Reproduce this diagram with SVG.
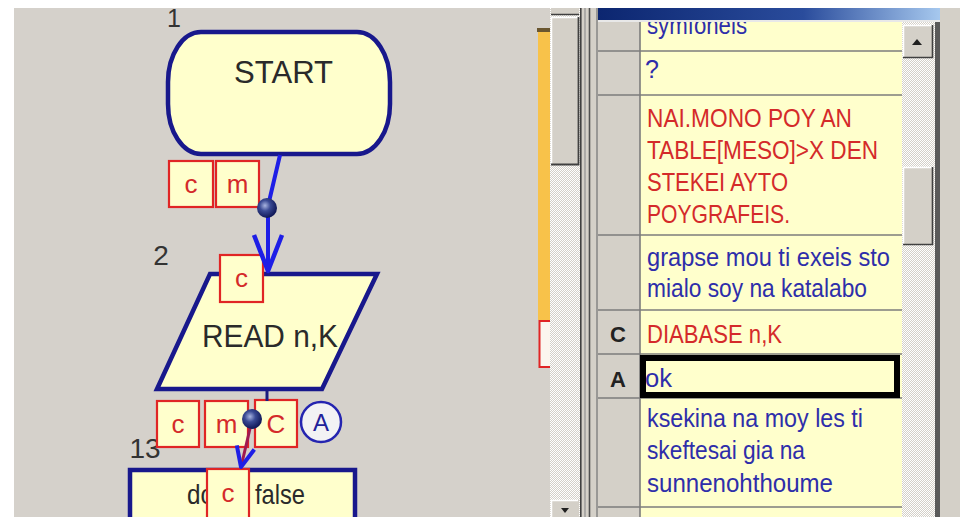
<svg xmlns="http://www.w3.org/2000/svg" width="963" height="517" viewBox="0 0 963 517">
<defs>
<style>
.node{fill:#ffffcc;stroke:#18188c;stroke-width:4.5}
.tag{fill:#ffffcc;stroke:#e02525;stroke-width:2.2}
.tagt{font-family:"Liberation Sans",Arial,sans-serif;font-size:26px;fill:#d42a2a;text-anchor:middle}
.ntxt{font-family:"Liberation Sans",Arial,sans-serif;font-size:32px;fill:#2a2a2a}
.num{font-family:"Liberation Sans",Arial,sans-serif;font-size:28px;fill:#333333;text-anchor:middle}
.cell{font-family:"Liberation Sans",Arial,sans-serif;font-size:25px}
.blue{fill:#2e2eaa}
.red{fill:#d42a2a}
.hdr{font-family:"Liberation Sans",Arial,sans-serif;font-size:22px;font-weight:bold;fill:#222222}
.grid{stroke:#7c7c7c;stroke-width:1.6}
.btn{fill:#d4d0c8}
</style>
<radialGradient id="ball" cx="40%" cy="38%" r="60%">
<stop offset="0" stop-color="#a8b4e0"/>
<stop offset="0.45" stop-color="#3a4a94"/>
<stop offset="1" stop-color="#121a5a"/>
</radialGradient>
<linearGradient id="title" x1="0" y1="0" x2="1" y2="0">
<stop offset="0" stop-color="#0c2670"/>
<stop offset="0.6" stop-color="#2a4c9c"/>
<stop offset="1" stop-color="#a6c8ee"/>
</linearGradient>
<pattern id="dots" width="2" height="2" patternUnits="userSpaceOnUse">
<rect width="2" height="2" fill="#d4d0c8"/>
<rect width="1" height="1" fill="#ffffff"/>
<rect x="1" y="1" width="1" height="1" fill="#ffffff"/>
</pattern>
<marker id="arrowBig" viewBox="-42 -20 46 40" refX="0" refY="0" markerWidth="46" markerHeight="40" markerUnits="userSpaceOnUse" orient="auto">
<path d="M-36,-14 L0,0 L-36,14" fill="none" stroke="#1e1ee6" stroke-width="4.5" stroke-linejoin="round"/>
</marker>
<marker id="arrowSmall" viewBox="-26 -14 30 28" refX="0" refY="0" markerWidth="30" markerHeight="28" markerUnits="userSpaceOnUse" orient="auto">
<path d="M-20,-9 L0,0 L-20,9" fill="none" stroke="#1e1ee6" stroke-width="4" stroke-linejoin="round"/>
</marker>
</defs>

<!-- window background -->
<rect x="0" y="0" width="963" height="517" fill="#ffffff"/>
<rect x="14" y="8" width="536" height="509" fill="#d5d1cb"/>

<!-- flowchart nodes -->
<g id="node-start">
<rect class="node" x="168" y="32" width="222" height="122" rx="33" ry="50"/>
<text class="ntxt" x="234" y="83" textLength="99" lengthAdjust="spacingAndGlyphs">START</text>
<text class="num" x="174" y="27" style="font-size:25px">1</text>
</g>
<g id="node-read">
<polygon class="node" points="210,274 377,274 322,389 157,389"/>
<text class="ntxt" x="202" y="347" textLength="136" lengthAdjust="spacingAndGlyphs">READ n,K</text>
<text class="num" x="161" y="265">2</text>
</g>
<g id="node-init">
<rect class="node" x="130" y="470" width="225" height="70"/>
<text class="ntxt" x="187" y="504" style="font-size:28px" textLength="27" lengthAdjust="spacingAndGlyphs">do</text>
<text class="ntxt" x="255" y="504" style="font-size:28px" textLength="50" lengthAdjust="spacingAndGlyphs">false</text>
<text class="num" x="145" y="458">13</text>
</g>

<!-- annotation tags -->
<g id="tags-start">
<rect class="tag" x="169" y="161" width="44" height="46"/>
<text class="tagt" x="191" y="193">c</text>
<rect class="tag" x="216" y="161" width="43" height="46"/>
<text class="tagt" x="237.5" y="193">m</text>
</g>
<g id="tags-read">
<rect class="tag" x="220" y="255" width="43" height="47"/>
<text class="tagt" x="241.5" y="287">c</text>
<rect class="tag" x="157" y="401" width="42" height="46"/>
<text class="tagt" x="178" y="433">c</text>
<rect class="tag" x="205" y="401" width="43" height="46"/>
<text class="tagt" x="226.5" y="433">m</text>
<rect class="tag" x="255" y="400" width="42" height="47"/>
<text class="tagt" x="276" y="433">C</text>
</g>
<g id="tag-a">
<circle cx="321" cy="422" r="20" fill="#f2f2f4" stroke="#2424b0" stroke-width="2.5"/>
<text x="321" y="431" text-anchor="middle" style="font-family:'Liberation Sans',Arial,sans-serif;font-size:24px;fill:#22229a">A</text>
</g>
<g id="tags-init">
<rect class="tag" x="207" y="469" width="42" height="60"/>
<text class="tagt" x="228" y="502">c</text>
</g>

<!-- connectors -->
<g id="connectors">
<path d="M280,155 L268,206 L268,271" fill="none" stroke="#1e1ee6" stroke-width="4" stroke-linejoin="round" marker-end="url(#arrowBig)"/>
<line x1="267" y1="389" x2="267" y2="401" stroke="#1a1a80" stroke-width="3"/>
<line x1="252" y1="420" x2="241" y2="467" stroke="#a01a50" stroke-width="3" marker-end="url(#arrowSmall)"/>
<circle cx="267" cy="208" r="10" fill="url(#ball)"/>
<circle cx="252" cy="419" r="10" fill="url(#ball)"/>
</g>

<!-- overview strip -->
<g id="overview">
<rect x="538" y="31" width="12" height="289" fill="#f8c24a"/>
<rect x="537" y="28" width="13" height="4" fill="#6a5630"/>
<rect x="539.5" y="321" width="14" height="46" fill="#fbf6ee" stroke="#e02525" stroke-width="2"/>
</g>

<!-- middle scrollbar -->
<g id="scroll-left">
<rect x="550" y="8" width="30" height="509" fill="url(#dots)"/>
<rect class="btn" x="551" y="8" width="28" height="7"/>
<line x1="551" y1="14.5" x2="579" y2="14.5" stroke="#404040" stroke-width="1.5"/>
<rect class="btn" x="551" y="17" width="28" height="148"/>
<path d="M551.5,165 V17.5 H578" fill="none" stroke="#ffffff" stroke-width="1.5"/>
<path d="M551,164.5 H578.5 V17" fill="none" stroke="#404040" stroke-width="1.8"/>
<rect class="btn" x="551" y="500" width="28" height="17"/>
<path d="M551.5,517 V500.5 H578" fill="none" stroke="#ffffff" stroke-width="1.5"/>
<polygon points="561,508 569,508 565,513" fill="#202020"/>
</g>

<!-- splitter -->
<g id="splitter">
<rect x="580" y="0" width="18" height="517" fill="#d4d0c8"/>
<rect x="580" y="0" width="18" height="8" fill="#ffffff"/>
<line x1="580.8" y1="8" x2="580.8" y2="517" stroke="#404040" stroke-width="1.6"/>
<line x1="585" y1="8" x2="585" y2="517" stroke="#909090" stroke-width="1.2"/>
<line x1="589.5" y1="8" x2="589.5" y2="517" stroke="#505050" stroke-width="1.6"/>
<line x1="597" y1="8" x2="597" y2="517" stroke="#808080" stroke-width="1.4"/>
</g>

<!-- table panel -->
<g id="table">
<rect x="598" y="8" width="304" height="509" fill="#ffffcc"/>
<rect x="598" y="8" width="42" height="509" fill="#d4d0c8"/>
<line class="grid" x1="640" y1="8" x2="640" y2="517"/>
<line class="grid" x1="598" y1="51" x2="902" y2="51"/>
<line class="grid" x1="598" y1="95" x2="902" y2="95"/>
<line class="grid" x1="598" y1="235" x2="902" y2="235"/>
<line class="grid" x1="598" y1="310" x2="902" y2="310"/>
<line class="grid" x1="598" y1="354" x2="902" y2="354"/>
<line class="grid" x1="598" y1="398" x2="902" y2="398"/>
<line class="grid" x1="598" y1="507" x2="902" y2="507"/>

<text class="cell blue" x="647" y="34" textLength="100" lengthAdjust="spacingAndGlyphs">symfoneis</text>
<text class="cell blue" x="645" y="78">?</text>
<text class="cell red" x="647" y="127" textLength="205" lengthAdjust="spacingAndGlyphs">NAI.MONO POY AN</text>
<text class="cell red" x="647" y="159" textLength="231" lengthAdjust="spacingAndGlyphs">TABLE[MESO]&gt;X DEN</text>
<text class="cell red" x="647" y="191" textLength="141" lengthAdjust="spacingAndGlyphs">STEKEI AYTO</text>
<text class="cell red" x="647" y="223" textLength="143" lengthAdjust="spacingAndGlyphs">POYGRAFEIS.</text>
<text class="cell blue" x="647" y="266" textLength="243" lengthAdjust="spacingAndGlyphs">grapse mou ti exeis sto</text>
<text class="cell blue" x="647" y="297" textLength="220" lengthAdjust="spacingAndGlyphs">mialo soy na katalabo</text>
<text class="hdr" x="610" y="342">C</text>
<text class="cell red" x="647" y="343" textLength="135" lengthAdjust="spacingAndGlyphs">DIABASE n,K</text>
<text class="hdr" x="610" y="387">A</text>
<text class="cell blue" x="645" y="387" textLength="27" lengthAdjust="spacingAndGlyphs">ok</text>
<rect x="643" y="358" width="254" height="37" fill="none" stroke="#000000" stroke-width="6"/>
<text class="cell blue" x="647" y="427" textLength="216" lengthAdjust="spacingAndGlyphs">ksekina na moy les ti</text>
<text class="cell blue" x="647" y="459" textLength="158" lengthAdjust="spacingAndGlyphs">skeftesai gia na</text>
<text class="cell blue" x="647" y="492" textLength="186" lengthAdjust="spacingAndGlyphs">sunnenohthoume</text>
</g>

<!-- table scrollbar -->
<g id="scroll-right">
<rect x="902" y="20" width="33" height="497" fill="url(#dots)"/>
<rect class="btn" x="903" y="25" width="30" height="33"/>
<path d="M903.5,58 V25.5 H933" fill="none" stroke="#ffffff" stroke-width="1.5"/>
<path d="M903,57.5 H932.5 V25" fill="none" stroke="#404040" stroke-width="1.6"/>
<polygon points="912,45 917,39 922,45" fill="#202020"/>
<rect class="btn" x="903" y="167" width="30" height="78"/>
<path d="M903.5,245 V167.5 H933" fill="none" stroke="#ffffff" stroke-width="1.5"/>
<path d="M903,244.5 H932.5 V167" fill="none" stroke="#404040" stroke-width="1.6"/>
<rect x="935" y="8" width="5" height="509" fill="#5a5a5a"/>
<rect x="940" y="8" width="20" height="509" fill="#d4d0c8"/>
</g>

<!-- title bar -->
<g id="titlebar">
<rect x="598" y="0" width="365" height="8" fill="#ffffff"/>
<rect x="598" y="8" width="342" height="12" fill="url(#title)"/>
<rect x="598" y="20" width="342" height="2" fill="#e8e8e8"/>
</g>
</svg>
